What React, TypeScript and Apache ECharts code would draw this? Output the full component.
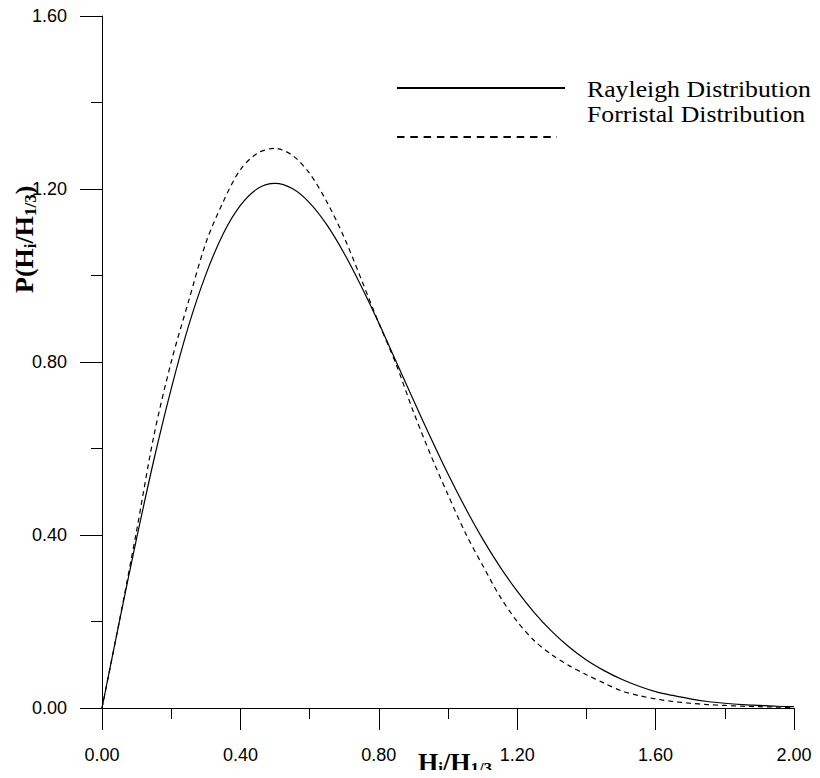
import React, { useEffect, useRef } from "react";
import * as echarts from "echarts";

const hRatio = [
  0.0, 0.05, 0.1, 0.15, 0.2, 0.25, 0.3, 0.35, 0.4, 0.45, 0.5, 0.55, 0.6, 0.65, 0.7, 0.75, 0.8, 0.85, 0.9, 0.95, 1.0,
  1.05, 1.1, 1.15, 1.2, 1.25, 1.3, 1.35, 1.4, 1.45, 1.5, 1.55, 1.6, 1.65, 1.7, 1.75, 1.8, 1.85, 1.9, 1.95, 2.0,
];

const rayleigh = [
  0.0, 0.199, 0.392, 0.574, 0.738, 0.883, 1.002, 1.096, 1.162, 1.201, 1.213, 1.201, 1.168, 1.117, 1.051, 0.974,
  0.89, 0.801, 0.712, 0.625, 0.541, 0.463, 0.391, 0.327, 0.27, 0.22, 0.177, 0.141, 0.111, 0.087, 0.067, 0.051,
  0.038, 0.029, 0.021, 0.015, 0.011, 0.008, 0.006, 0.004, 0.003,
];

const forristal = [
  0.0, 0.2, 0.41, 0.63, 0.8, 0.94, 1.075, 1.17, 1.245, 1.283, 1.294, 1.278, 1.236, 1.17, 1.088, 0.99, 0.89,
  0.795, 0.685, 0.585, 0.493, 0.405, 0.33, 0.258, 0.2, 0.155, 0.123, 0.098, 0.077, 0.058, 0.04, 0.029, 0.021,
  0.015, 0.011, 0.008, 0.006, 0.004, 0.003, 0.002, 0.001,
];

const seriesNames = ["Rayleigh Distribution", "Forristal Distribution"];

export default function App() {
  const ref = useRef<HTMLDivElement>(null);

  useEffect(() => {
    if (!ref.current) return;
    const chart = echarts.init(ref.current, undefined, { renderer: "svg" });

    const left = 102;
    const top = 16;
    const right = 26;
    const bottom = 70;

    const tickLabel = {
      color: "#000",
      fontFamily: "Liberation Sans, Arial, sans-serif",
      fontSize: 18,
      formatter: (v: number) => v.toFixed(2),
    };

    const serif = "Liberation Serif, Times New Roman, serif";
    const mainRich = {
      b: { fontFamily: serif, fontWeight: "bold", fontSize: 26, lineHeight: 30, verticalAlign: "middle", color: "#000" },
      s: { fontFamily: serif, fontWeight: "bold", fontSize: 17, lineHeight: 16, verticalAlign: "bottom", color: "#000" },
    };

    const option: any = {
      animation: false,
      backgroundColor: "#fff",
      grid: { left, top, right, bottom, containLabel: false },
      xAxis: {
        type: "value",
        min: 0,
        max: 2,
        interval: 0.4,
        axisLine: { show: true, onZero: false, lineStyle: { color: "#000", width: 1 } },
        axisTick: { show: true, length: 22, lineStyle: { color: "#000", width: 1 } },
        minorTick: { show: true, splitNumber: 2, length: 11, lineStyle: { color: "#000", width: 1 } },
        splitLine: { show: false },
        axisLabel: { ...tickLabel, margin: 38 },
      },
      yAxis: {
        type: "value",
        min: 0,
        max: 1.6,
        interval: 0.4,
        axisLine: { show: true, onZero: false, lineStyle: { color: "#000", width: 1 } },
        axisTick: { show: true, length: 22, lineStyle: { color: "#000", width: 1 } },
        minorTick: { show: true, splitNumber: 2, length: 11, lineStyle: { color: "#000", width: 1 } },
        splitLine: { show: false },
        axisLabel: { ...tickLabel, margin: 35 },
      },
      series: [
        {
          name: seriesNames[0],
          type: "line",
          data: hRatio.map((h, i) => [h, rayleigh[i]]),
          showSymbol: false,
          smooth: 0.3,
          lineStyle: { color: "#000", width: 1.2, type: "solid" },
        },
        {
          name: seriesNames[1],
          type: "line",
          data: hRatio.map((h, i) => [h, forristal[i]]),
          showSymbol: false,
          smooth: 0.3,
          lineStyle: { color: "#000", width: 1.2, type: [5, 4] },
        },
      ],
      graphic: [
        {
          type: "line",
          shape: { x1: 397, y1: 88, x2: 565, y2: 88 },
          style: { stroke: "#000", lineWidth: 2 },
        },
        {
          type: "line",
          shape: { x1: 397, y1: 137, x2: 557, y2: 137 },
          style: { stroke: "#000", lineWidth: 2, lineDash: [7.5, 5.8] },
        },
        {
          type: "text",
          x: 587,
          y: 89,
          scaleX: 1.12,
          style: {
            text: seriesNames[0],
            fill: "#000",
            font: "23px 'Liberation Serif', 'Times New Roman', serif",
            align: "left",
            verticalAlign: "middle",
          },
        },
        {
          type: "text",
          x: 587,
          y: 114,
          scaleX: 1.12,
          style: {
            text: seriesNames[1],
            fill: "#000",
            font: "23px 'Liberation Serif', 'Times New Roman', serif",
            align: "left",
            verticalAlign: "middle",
          },
        },
        {
          type: "text",
          x: 418,
          y: 747,
          style: {
            text: "{b|H}{s|i}{b|/H}{s|1/3}",
            rich: mainRich,
            align: "left",
            verticalAlign: "top",
          },
        },
        {
          type: "text",
          x: 9,
          y: 293,
          rotation: Math.PI / 2,
          style: {
            text: "{b|P(H}{s|i}{b|/H}{s|1/3}{b|)}",
            rich: mainRich,
            align: "left",
            verticalAlign: "top",
          },
        },
      ],
    };

    chart.setOption(option);
    return () => chart.dispose();
  }, []);

  return <div ref={ref} style={{ width: 820, height: 778, margin: -8 }} />;
}
